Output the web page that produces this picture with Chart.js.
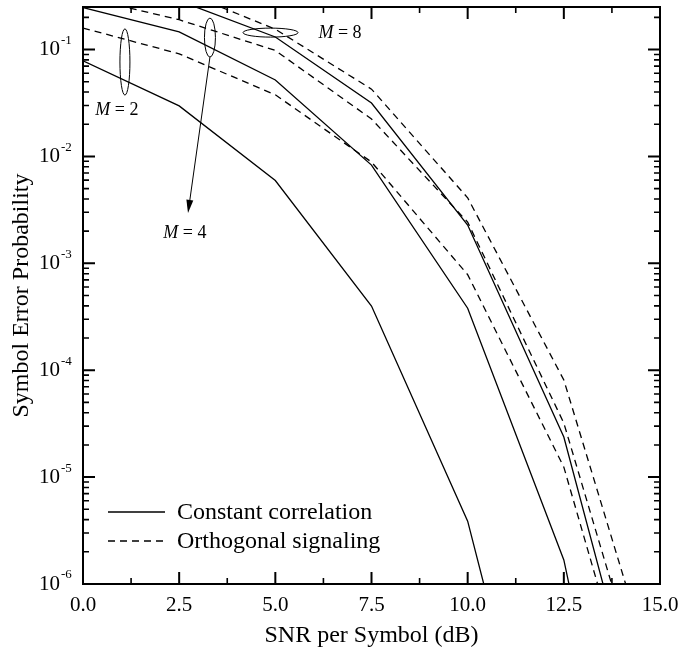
<!DOCTYPE html>
<html>
<head>
<meta charset="utf-8">
<script src="https://cdn.jsdelivr.net/npm/chart.js@4.4.1/dist/chart.umd.min.js"></script>
<style>
  html, body { margin: 0; padding: 0; background: #fff; }
  canvas { display: block; }
</style>
</head>
<body>
<canvas id="serChart" width="699" height="652"></canvas>
<script>
// SNR per symbol (dB) at which the curves were sampled
const snr = [0, 2.5, 5, 7.5, 10, 12.5, 15];

// Constant correlation (solid)
const constM2 = [0.0786, 0.0297, 0.00595, 3.98e-4, 3.87e-6, 1.2e-9, 1e-14];
const constM4 = [0.247, 0.146, 0.0519, 0.0083, 3.8e-4, 1.68e-6, 1e-10];
const constM8 = [0.42, 0.286, 0.131, 0.0316, 0.00228, 2.37e-5, 1e-8];

// Orthogonal signaling (dashed)
const orthM2 = [0.159, 0.0912, 0.0377, 0.00887, 7.83e-4, 1.24e-5, 9.5e-9];
const orthM4 = [0.31, 0.19, 0.098, 0.0224, 0.00243, 3.2e-5, 3e-8];
const orthM8 = [0.55, 0.36, 0.155, 0.0426, 0.0041, 8.1e-5, 8.7e-8];

// axis ticks
const xTicks = [0, 2.5, 5, 7.5, 10, 12.5, 15];
const yExponents = [-6, -5, -4, -3, -2, -1];

const xTitle = 'SNR per Symbol (dB)';
const yTitle = 'Symbol Error Probability';
const legendLabels = ['Constant correlation', 'Orthogonal signaling'];

// group marks: [snr dB, error probability]
const groupNotes = {
  m2: { ellipseTop: [1.09, 0.156], ellipseBottom: [1.09, 0.0375], label: [0.88, 0.0272], text: '2' },
  m4: { ellipseTop: [3.30, 0.197], ellipseBottom: [3.30, 0.085], arrowTip: [2.73, 0.00296], label: [2.65, 0.00192], text: '4' },
  m8: { ellipseLeft: [4.16, 0.144], ellipseRight: [5.59, 0.144], label: [6.68, 0.1426], text: '8' }
};

const serif = '"Liberation Serif", "Times New Roman", serif';

function pairs(values) {
  return snr.map((s, i) => ({ x: s, y: values[i] }));
}

function line(label, values, dashed) {
  return {
    label: label,
    data: pairs(values),
    borderColor: '#000',
    borderWidth: 1.3,
    borderDash: dashed ? [7, 5] : [],
    pointRadius: 0,
    fill: false,
    tension: 0
  };
}

// Frame, inward ticks, superscript labels, legend and group marks
const figureDecor = {
  id: 'figureDecor',
  afterDraw(chart) {
    const { ctx, chartArea: a, scales: { x, y } } = chart;
    ctx.save();
    ctx.strokeStyle = '#000';
    ctx.fillStyle = '#000';

    // x ticks (bottom and top)
    xTicks.forEach((v, i) => {
      const px = x.getPixelForValue(v);
      ctx.lineWidth = 2;
      ctx.beginPath();
      ctx.moveTo(px, a.bottom); ctx.lineTo(px, a.bottom - 12);
      ctx.moveTo(px, a.top); ctx.lineTo(px, a.top + 12);
      ctx.stroke();
      if (i < xTicks.length - 1) {
        const pm = x.getPixelForValue((v + xTicks[i + 1]) / 2);
        ctx.lineWidth = 1.6;
        ctx.beginPath();
        ctx.moveTo(pm, a.bottom); ctx.lineTo(pm, a.bottom - 6);
        ctx.moveTo(pm, a.top); ctx.lineTo(pm, a.top + 6);
        ctx.stroke();
      }
    });

    // y ticks (left and right)
    yExponents.forEach(e => {
      for (let k = 1; k < 10; k++) {
        const v = k * Math.pow(10, e);
        if (v > y.max * 1.0001) break;
        const py = y.getPixelForValue(v);
        const len = k === 1 ? 12 : 6;
        ctx.lineWidth = k === 1 ? 2 : 1.6;
        ctx.beginPath();
        ctx.moveTo(a.left, py); ctx.lineTo(a.left + len, py);
        ctx.moveTo(a.right, py); ctx.lineTo(a.right - len, py);
        ctx.stroke();
      }
    });

    // frame
    ctx.lineWidth = 2;
    ctx.strokeRect(a.left, a.top, a.right - a.left, a.bottom - a.top);

    // y labels 10^e
    yExponents.forEach(e => {
      const py = y.getPixelForValue(Math.pow(10, e));
      ctx.font = '21px ' + serif;
      ctx.textAlign = 'right';
      ctx.textBaseline = 'middle';
      ctx.fillText('10', a.left - 23, py);
      ctx.font = '13px ' + serif;
      ctx.textAlign = 'left';
      ctx.fillText(String(e), a.left - 22, py - 9);
    });

    // legend
    ctx.lineWidth = 1.3;
    const legX = a.left + 25, legY = a.top + 505;
    legendLabels.forEach((txt, i) => {
      const ly = legY + i * 29;
      ctx.setLineDash(i === 0 ? [] : [7, 5]);
      ctx.beginPath();
      ctx.moveTo(legX, ly); ctx.lineTo(legX + 57, ly);
      ctx.stroke();
      ctx.setLineDash([]);
      ctx.font = '24px ' + serif;
      ctx.textAlign = 'left';
      ctx.textBaseline = 'middle';
      ctx.fillText(txt, legX + 69, ly + 1);
    });

    // group marks
    const P = p => [x.getPixelForValue(p[0]), y.getPixelForValue(p[1])];
    ctx.lineWidth = 1;

    const vEllipse = (top, bottom, rx) => {
      const [cx, t] = P(top), [, b] = P(bottom);
      ctx.beginPath();
      ctx.ellipse(cx, (t + b) / 2, rx, (b - t) / 2, 0, 0, Math.PI * 2);
      ctx.stroke();
      return [cx, b];
    };
    vEllipse(groupNotes.m2.ellipseTop, groupNotes.m2.ellipseBottom, 5);
    const [ax, ay] = vEllipse(groupNotes.m4.ellipseTop, groupNotes.m4.ellipseBottom, 5.5);

    const [l8x, l8y] = P(groupNotes.m8.ellipseLeft), [r8x] = P(groupNotes.m8.ellipseRight);
    ctx.beginPath();
    ctx.ellipse((l8x + r8x) / 2, l8y, (r8x - l8x) / 2, 4.5, 0, 0, Math.PI * 2);
    ctx.stroke();

    // arrow from the M = 4 ellipse
    const [tx, ty] = P(groupNotes.m4.arrowTip);
    const ang = Math.atan2(ty - ay, tx - ax);
    ctx.beginPath();
    ctx.moveTo(ax, ay); ctx.lineTo(tx - Math.cos(ang) * 10, ty - Math.sin(ang) * 10);
    ctx.stroke();
    ctx.beginPath();
    ctx.moveTo(tx, ty);
    ctx.lineTo(tx - Math.cos(ang) * 13 + Math.sin(ang) * 3.5, ty - Math.sin(ang) * 13 - Math.cos(ang) * 3.5);
    ctx.lineTo(tx - Math.cos(ang) * 13 - Math.sin(ang) * 3.5, ty - Math.sin(ang) * 13 + Math.cos(ang) * 3.5);
    ctx.closePath();
    ctx.fill();

    // M = n labels
    ['m2', 'm4', 'm8'].forEach(key => {
      const note = groupNotes[key];
      const [lx, ly] = P(note.label);
      ctx.textBaseline = 'middle';
      ctx.font = 'italic 18px ' + serif;
      const mW = ctx.measureText('M').width;
      ctx.font = '18px ' + serif;
      const rest = ' = ' + note.text;
      const rW = ctx.measureText(rest).width;
      const x0 = lx - (mW + rW) / 2;
      ctx.textAlign = 'left';
      ctx.font = 'italic 18px ' + serif;
      ctx.fillText('M', x0, ly);
      ctx.font = '18px ' + serif;
      ctx.fillText(rest, x0 + mW, ly);
    });

    ctx.restore();
  }
};

new Chart(document.getElementById('serChart').getContext('2d'), {
  type: 'line',
  data: {
    datasets: [
      line('Constant correlation M=2', constM2, false),
      line('Constant correlation M=4', constM4, false),
      line('Constant correlation M=8', constM8, false),
      line('Orthogonal signaling M=2', orthM2, true),
      line('Orthogonal signaling M=4', orthM4, true),
      line('Orthogonal signaling M=8', orthM8, true)
    ]
  },
  options: {
    responsive: false,
    animation: false,
    devicePixelRatio: 1,
    layout: { padding: { top: 7, right: 39, left: 0, bottom: 0 } },
    plugins: {
      legend: { display: false },
      tooltip: { enabled: false }
    },
    scales: {
      x: {
        type: 'linear',
        min: 0,
        max: 15,
        afterBuildTicks: s => { s.ticks = xTicks.map(v => ({ value: v })); },
        afterFit: s => { s.height = 68; },
        grid: { display: false, drawTicks: false },
        border: { display: false },
        ticks: {
          color: '#000',
          font: { family: serif, size: 21 },
          padding: 9,
          maxRotation: 0,
          autoSkip: false,
          callback: v => Number(v).toFixed(1)
        },
        title: {
          display: true,
          text: xTitle,
          color: '#000',
          font: { family: serif, size: 24 },
          padding: { top: 0, bottom: 2 }
        }
      },
      y: {
        type: 'logarithmic',
        min: 1e-6,
        max: 0.25,
        afterFit: s => { s.width = 83; },
        grid: { display: false, drawTicks: false },
        border: { display: false },
        ticks: { display: false },
        title: {
          display: true,
          text: yTitle,
          color: '#000',
          font: { family: serif, size: 24 },
          padding: { top: 7, bottom: 0 }
        }
      }
    }
  },
  plugins: [figureDecor]
});
</script>
</body>
</html>
